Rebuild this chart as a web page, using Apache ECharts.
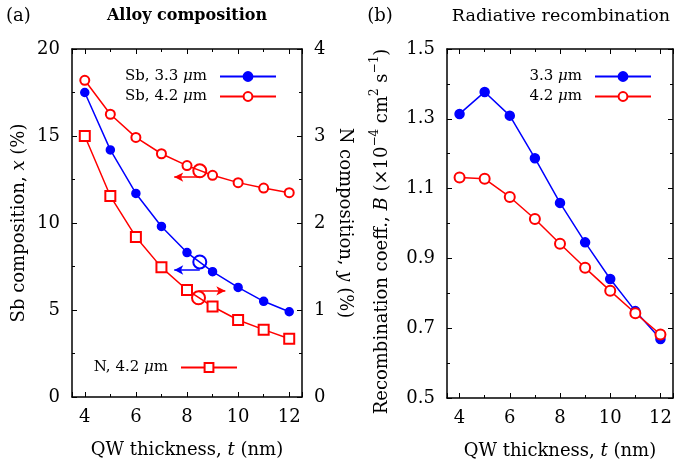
<!DOCTYPE html>
<html><head><meta charset="utf-8">
<script src="https://cdn.jsdelivr.net/npm/echarts@6/dist/echarts.min.js"></script>
<style>html,body{margin:0;padding:0;background:#fff}#c{width:676px;height:466px}</style>
</head><body><div id="c"></div>
<script>
// ---- data ----
const thickness = [4, 5, 6, 7, 8, 9, 10, 11, 12];
const sb33 = [17.5, 14.2, 11.7, 9.8, 8.3, 7.2, 6.3, 5.5, 4.9];      // Sb %, 3.3 um
const sb42 = [18.2, 16.25, 14.92, 13.98, 13.3, 12.74, 12.32, 12.01, 11.74]; // Sb %, 4.2 um
const n42 = [3.0, 2.31, 1.84, 1.49, 1.23, 1.04, 0.885, 0.774, 0.67];   // N %, 4.2 um
const b33 = [1.314, 1.377, 1.309, 1.187, 1.059, 0.946, 0.841, 0.749, 0.669];
const b42 = [1.132, 1.128, 1.076, 1.013, 0.942, 0.873, 0.807, 0.743, 0.682];
// annotation markers: circle centre, arrow start, arrow end (data coords)
const annSbRed = [[8.5, 13.0], [8.5, 12.64], [7.5, 12.64]];
const annSbBlue = [[8.5, 7.76], [8.5, 7.3], [7.5, 7.3]];
const annNRed = [[8.45, 1.14], [8.45, 1.22], [9.5, 1.22]];
const namesLeft = ['Sb, 3.3 \u03bcm', 'Sb, 4.2 \u03bcm', 'N, 4.2 \u03bcm'];
const namesRight = ['3.3 \u03bcm', '4.2 \u03bcm'];

const F = 'DejaVu Serif';
const BLUE = '#0000ff', RED = '#ff0000';
const pts = (xs, ys) => xs.map((x, i) => [x, ys[i]]);

const axisLine = {show: true, onZero: false, lineStyle: {color: '#000', width: 1.5}};
const tick = {show: true, inside: true, length: 5, lineStyle: {color: '#000', width: 1}};
const minor = {show: true, splitNumber: 2, length: 3, lineStyle: {color: '#000', width: 1}};
const nameStyle = {color: '#000', fontFamily: F, fontSize: 18,
  rich: {i: {fontStyle: 'italic', fontFamily: F, fontSize: 18, color: '#000'}}};

function xAx(grid, pos, labels) {
  return {
    type: 'value', gridIndex: grid, position: pos, min: 3.5, max: 12.5, splitNumber: 5,
    axisLine, axisTick: tick, minorTick: minor,
    splitLine: {show: false}, minorSplitLine: {show: false},
    axisLabel: {show: labels, color: '#000', fontFamily: F, fontSize: 18, margin: 11,
      formatter: v => (Math.abs(v - Math.round(v)) < 1e-9 && Math.round(v) % 2 === 0) ? String(Math.round(v)) : ''},
    name: labels ? 'QW thickness, {i|t} (nm)' : '', nameLocation: 'middle', nameGap: 44,
    nameTextStyle: nameStyle
  };
}
function yAx(grid, pos, min, max, interval, labels, fmt, extra) {
  return Object.assign({
    type: 'value', gridIndex: grid, position: pos, min, max, interval,
    axisLine, axisTick: tick, minorTick: minor,
    splitLine: {show: false}, minorSplitLine: {show: false},
    axisLabel: {show: labels, color: '#000', fontFamily: F, fontSize: 18, margin: 12, formatter: fmt},
    nameTextStyle: nameStyle
  }, extra || {});
}

function lineSeries(name, xi, yi, data, color, symbol, size) {
  return {
    name, type: 'line', xAxisIndex: xi, yAxisIndex: yi, data,
    symbol, symbolSize: size, showAllSymbol: true,
    lineStyle: {color, width: 1.5}, itemStyle: {color, borderColor: color, borderWidth: 1.5},
    emphasis: {disabled: true}, animation: false, z: 3
  };
}
function annSeries(ann, yi, color) {
  return {
    type: 'scatter', xAxisIndex: 0, yAxisIndex: yi, data: [ann[0]],
    symbol: 'circle', symbolSize: 13, silent: true, animation: false,
    itemStyle: {color: 'rgba(0,0,0,0)', borderColor: color, borderWidth: 2, opacity: 1}, z: 4,
    emphasis: {disabled: true},
    markLine: {
      silent: true, animation: false, symbol: ['none', 'arrow'], symbolSize: [7, 9],
      label: {show: false}, lineStyle: {color, width: 1.5, type: 'solid', opacity: 1},
      emphasis: {disabled: true},
      data: [[{coord: ann[1]}, {coord: ann[2]}]]
    }
  };
}

const legendBase = {
  orient: 'vertical', align: 'right', itemWidth: 56, itemHeight: 11, itemGap: 5, padding: 0,
  selectedMode: false,
  formatter: n => n.replace('\u03bc', '{i|\u03bc}'),
  textStyle: {color: '#000', fontFamily: F, fontSize: 15, lineHeight: 15, padding: [0, 8, 0, 0],
    rich: {i: {fontStyle: 'italic', fontFamily: F, fontSize: 15, color: '#000'}}}
};

const option = {
  backgroundColor: '#fff',
  animation: false,
  grid: [
    {left: 72, right: 374, top: 49, bottom: 69},
    {left: 447, right: 1, top: 49, bottom: 68}
  ],
  xAxis: [xAx(0, 'bottom', true), xAx(0, 'top', false), xAx(1, 'bottom', true), xAx(1, 'top', false)],
  yAxis: [
    yAx(0, 'left', 0, 20, 5, true, v => String(v),
      {name: 'Sb composition, {i|x} (%)', nameLocation: 'middle', nameGap: 44}),
    yAx(0, 'right', 0, 4, 1, true, v => String(v),
      {name: 'N composition, {i|y} (%)', nameLocation: 'middle', nameGap: 34, nameRotate: -90}),
    yAx(1, 'left', 0.5, 1.5, 0.2, true, v => v.toFixed(1),
      {name: '{n|Recombination coeff., }{i|B}{n| (\u00d710}{s|\u22124}{n| cm}{s|2}{n| s}{s|\u22121}{n|)}',
       nameLocation: 'middle', nameGap: 56,
       nameTextStyle: {color: '#000', fontFamily: F, fontSize: 18, padding: [0, 16, 0, 0],
         rich: {
           n: {fontFamily: F, fontSize: 18, color: '#000', verticalAlign: 'bottom', lineHeight: 22},
           i: {fontFamily: F, fontSize: 18, fontStyle: 'italic', color: '#000', verticalAlign: 'bottom', lineHeight: 22},
           s: {fontFamily: F, fontSize: 12, color: '#000', verticalAlign: 'top', lineHeight: 12}
         }}}),
    yAx(1, 'right', 0.5, 1.5, 0.2, false, v => v.toFixed(1), {})
  ],
  legend: [
    Object.assign({}, legendBase, {data: [namesLeft[0], namesLeft[1]], right: 399, top: 69}),
    Object.assign({}, legendBase, {data: [namesLeft[2]], right: 438, top: 360}),
    Object.assign({}, legendBase, {data: namesRight, right: 24, top: 69})
  ],
  graphic: [
    {type: 'text', x: 6, y: 16, style: {text: '(a)', font: '18px "DejaVu Serif"', fill: '#000', verticalAlign: 'middle'}},
    {type: 'text', x: 187, y: 16, style: {text: 'Alloy composition', font: 'bold 16px "DejaVu Serif"', fill: '#000', align: 'center', verticalAlign: 'middle'}},
    {type: 'text', x: 380, y: 16, style: {text: '(b)', font: '18px "DejaVu Serif"', fill: '#000', align: 'center', verticalAlign: 'middle'}},
    {type: 'text', x: 561, y: 16, style: {text: 'Radiative recombination', font: '17.5px "DejaVu Serif"', fill: '#000', align: 'center', verticalAlign: 'middle'}}
  ],
  series: [
    lineSeries(namesLeft[0], 0, 0, pts(thickness, sb33), BLUE, 'circle', 8),
    lineSeries(namesLeft[1], 0, 0, pts(thickness, sb42), RED, 'emptyCircle', 9),
    lineSeries(namesLeft[2], 0, 1, pts(thickness, n42), RED, 'emptyRect', 10),
    lineSeries(namesRight[0], 2, 2, pts(thickness, b33), BLUE, 'circle', 9),
    lineSeries(namesRight[1], 2, 2, pts(thickness, b42), RED, 'emptyCircle', 10),
    annSeries(annSbRed, 0, RED),
    annSeries(annSbBlue, 0, BLUE),
    annSeries(annNRed, 1, RED)
  ]
};
const chart = echarts.init(document.getElementById('c'), null, {renderer: 'canvas'});
chart.setOption(option);
</script>
</body></html>
